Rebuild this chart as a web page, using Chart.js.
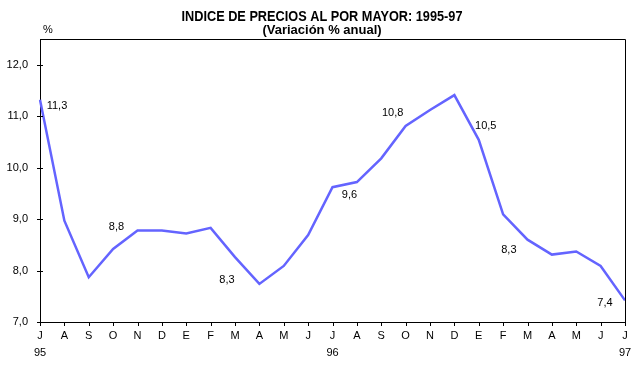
<!DOCTYPE html>
<html>
<head>
<meta charset="utf-8">
<script src="https://cdn.jsdelivr.net/npm/chart.js@4.4.1/dist/chart.umd.min.js"></script>
<style>
  html, body { margin: 0; padding: 0; background: #fff; }
  #wrap { width: 642px; height: 367px; }
</style>
</head>
<body>
<div id="wrap"><canvas id="grafico" width="642" height="367"></canvas></div>
<script>
// Datos: variación % anual del índice de precios al por mayor
const meses = ['J', 'A', 'S', 'O', 'N', 'D', 'E', 'F', 'M', 'A', 'M', 'J',
               'J', 'A', 'S', 'O', 'N', 'D', 'E', 'F', 'M', 'A', 'M', 'J', 'J'];
const anios = { 0: '95', 12: '96', 24: '97' };
const variacion = [11.32, 8.97, 7.87, 8.42, 8.78, 8.78, 8.72, 8.83, 8.26, 7.74, 8.09, 8.69,
                   9.62, 9.72, 10.18, 10.81, 11.12, 11.41, 10.54, 9.09, 8.60, 8.31, 8.37, 8.09, 7.42];
const ticksY = [7, 8, 9, 10, 11, 12];
const etiquetas = [
    { i: 0, texto: '11,3' },
    { i: 4, texto: '8,8' },
    { i: 8, texto: '8,3' },
    { i: 12, texto: '9,6' },
    { i: 15, texto: '10,8' },
    { i: 18, texto: '10,5' },
    { i: 21, texto: '8,3' },
    { i: 24, texto: '7,4' }
];

// desplazamiento de cada etiqueta respecto a su punto (px)
const desplazamientos = [[17, 6], [-21, -3], [-8, 23], [17, 8], [-13, -13], [7, -14], [-43, -5], [-20, 3]];

const FUENTE = '"Liberation Sans", Arial, sans-serif';

const categorias = meses.map((m, i) => anios[i] ? [m, anios[i]] : m);

// Plugin: títulos, marco, marcas de ejes y etiquetas de valores
const extras = {
    id: 'extras',
    afterDraw(chart) {
        const ctx = chart.ctx;
        const area = chart.chartArea;
        const x = chart.scales.x;
        const y = chart.scales.y;
        ctx.save();

        // marco superior y derecho
        ctx.strokeStyle = '#000';
        ctx.lineWidth = 1;
        ctx.beginPath();
        ctx.moveTo(Math.round(area.left) + 0.5, Math.round(area.top) + 0.5);
        ctx.lineTo(Math.round(area.right) + 0.5, Math.round(area.top) + 0.5);
        ctx.lineTo(Math.round(area.right) + 0.5, Math.round(area.bottom) + 0.5);
        ctx.stroke();

        // marcas eje Y (cruzan el eje)
        ctx.beginPath();
        ticksY.forEach(v => {
            const py = Math.round(y.getPixelForValue(v)) + 0.5;
            ctx.moveTo(area.left - 3, py);
            ctx.lineTo(area.left + 3, py);
        });
        // marcas eje X
        meses.forEach((m, i) => {
            const px = Math.round(x.getPixelForValue(i)) + 0.5;
            ctx.moveTo(px, area.bottom);
            ctx.lineTo(px, area.bottom + 4);
        });
        ctx.stroke();

        // títulos
        ctx.fillStyle = '#000';
        ctx.textAlign = 'center';
        ctx.textBaseline = 'middle';
        ctx.font = 'bold 15px ' + FUENTE;
        ctx.fillText('INDICE DE PRECIOS AL POR MAYOR: 1995-97', 322, 17, 281);
        ctx.font = 'bold 13px ' + FUENTE;
        ctx.fillText('(Variación % anual)', 322, 30, 125);
        ctx.font = '11px ' + FUENTE;
        ctx.fillText('%', 48, 30);

        // etiquetas de valores
        ctx.font = '11px ' + FUENTE;
        etiquetas.forEach((e, k) => {
            const px = x.getPixelForValue(e.i) + desplazamientos[k][0];
            const py = y.getPixelForValue(variacion[e.i]) + desplazamientos[k][1];
            ctx.fillText(e.texto, px, py);
        });
        ctx.restore();
    }
};

new Chart(document.getElementById('grafico'), {
    type: 'line',
    data: {
        labels: categorias,
        datasets: [{
            data: variacion,
            borderColor: '#6464ff',
            borderWidth: 2.5,
            pointRadius: 0,
            tension: 0,
            fill: false
        }]
    },
    options: {
        responsive: false,
        animation: false,
        layout: { padding: { top: 39, right: 17, left: 0, bottom: 0 } },
        plugins: { legend: { display: false }, tooltip: { enabled: false } },
        scales: {
            x: {
                offset: false,
                grid: { display: false, drawTicks: false },
                border: { display: true, color: '#000', width: 1 },
                ticks: {
                    autoSkip: false, maxRotation: 0, color: '#000', padding: 5,
                    font: { family: FUENTE, size: 11, lineHeight: 1.55 }
                },
                afterFit: s => { s.height = 45; }
            },
            y: {
                min: 7, max: 12.5,
                grid: { display: false, drawTicks: false },
                border: { display: true, color: '#000', width: 1 },
                afterBuildTicks: s => { s.ticks = ticksY.map(v => ({ value: v })); },
                ticks: {
                    color: '#000', padding: 12,
                    font: { family: FUENTE, size: 11 },
                    callback: v => v.toFixed(1).replace('.', ',')
                },
                afterFit: s => { s.width = 40; }
            }
        }
    },
    plugins: [extras]
});
</script>
</body>
</html>
